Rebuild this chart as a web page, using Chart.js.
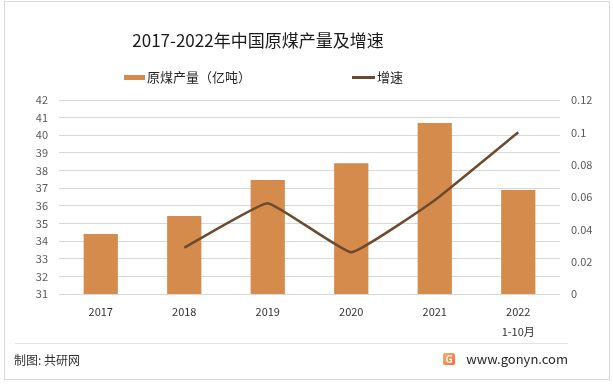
<!DOCTYPE html>
<html>
<head>
<meta charset="utf-8">
<script src="https://cdn.jsdelivr.net/npm/chart.js@4/dist/chart.umd.min.js"></script>
<style>
  html, body { margin: 0; padding: 0; background: #fff; }
  body { width: 613px; height: 385px; position: relative; overflow: hidden; font-family: "Noto Sans CJK SC", "Noto Sans", sans-serif; }
  #frame { position: absolute; left: 4px; top: 1px; width: 604px; height: 377px; border: 1px solid #d9d9d9; }
  #wrap { position: absolute; left: 0; top: 0; width: 613px; height: 385px; }
  .abs { position: absolute; white-space: nowrap; }
  #title { left: 58px; width: 400px; top: 27px; text-align: center; font-size: 17px; color: #1a1a1a; line-height: 26px; }
  .lg { font-size: 13px; color: #262626; line-height: 18px; top: 68px; }
  #sep { left: 15px; top: 343px; width: 553px; height: 1px; background: #e3e3e3; }
  #src { left: 14px; top: 351px; font-size: 12px; color: #333; line-height: 18px; }
  #site { right: 45px; top: 349px; font-size: 13px; color: #262626; line-height: 20px; }
  #logo { left: 443px; top: 353px; width: 12px; height: 12px; border-radius: 2px; background: linear-gradient(135deg, #f7b267, #ef6f3c); color: #fff; font-size: 10px; line-height: 12px; text-align: center; font-weight: bold; }
</style>
</head>
<body>
<div id="frame"></div>
<div id="wrap"><canvas id="grafica" width="613" height="385"></canvas></div>
<div id="title" class="abs">2017-2022年中国原煤产量及增速</div>
<div class="abs" style="left:124px;top:75px;width:21px;height:5px;background:#d48b4c"></div>
<div class="abs lg" style="left:147px">原煤产量（亿吨）</div>
<div class="abs" style="left:352px;top:76px;width:23px;height:3px;background:#6b4a2e"></div>
<div class="abs lg" style="left:377px">增速</div>
<div id="sep" class="abs"></div>
<div id="src" class="abs">制图: 共研网</div>
<div id="logo" class="abs">G</div>
<div id="site" class="abs">www.gonyn.com</div>
<script>
// datos
const anios = [['2017'], ['2018'], ['2019'], ['2020'], ['2021'], ['2022', '1-10月']];
const produccion = [34.4, 35.42, 37.46, 38.42, 40.69, 36.89];
const crecimiento = [null, 0.0286, 0.0562, 0.0258, 0.058, 0.1];
const COLOR_BARRA = '#d48b4c';
const COLOR_LINEA = '#6b4a2e';

var ctx = document.getElementById('grafica').getContext('2d');
var grafica = new Chart(ctx, {
    type: 'bar',
    data: {
        labels: anios,
        datasets: [{
            type: 'line',
            label: '增速',
            data: crecimiento,
            yAxisID: 'y2',
            borderColor: COLOR_LINEA,
            borderWidth: 2.5,
            pointRadius: 0,
            tension: 0.1,
            order: 1
        },
        {
            label: '原煤产量（亿吨）',
            data: produccion,
            yAxisID: 'y',
            backgroundColor: COLOR_BARRA,
            barPercentage: 0.41,
            categoryPercentage: 1,
            order: 2
        }]
    },
    options: {
        responsive: false,
        animation: false,
        layout: { padding: { top: 100, left: 0, right: 0, bottom: 0 } },
        plugins: {
            legend: { display: false },
            title: { display: false },
            tooltip: { enabled: false }
        },
        scales: {
            x: {
                grid: { display: false },
                border: { display: false },
                ticks: {
                    color: '#333',
                    padding: 0,
                    maxRotation: 0,
                    font: { family: '"Noto Sans CJK SC", sans-serif', size: 11, lineHeight: 1.8 }
                },
                afterFit: (scale) => { scale.height = 91; }
            },
            y: {
                position: 'left',
                min: 31,
                max: 42,
                ticks: {
                    stepSize: 1,
                    color: '#595959',
                    padding: 11,
                    font: { family: '"Noto Sans CJK SC", sans-serif', size: 11 }
                },
                grid: { color: '#d9d9d9', drawTicks: false },
                border: { display: false },
                afterFit: (scale) => { scale.width = 59; }
            },
            y2: {
                position: 'right',
                min: 0,
                max: 0.12,
                ticks: {
                    stepSize: 0.02,
                    color: '#595959',
                    padding: 11,
                    align: 'center',
                    font: { family: '"Noto Sans CJK SC", sans-serif', size: 11 },
                    callback: (v) => String(+v.toFixed(2))
                },
                grid: { drawOnChartArea: false, drawTicks: false },
                border: { display: false },
                afterFit: (scale) => { scale.width = 53; }
            }
        }
    }
});
</script>
</body>
</html>
